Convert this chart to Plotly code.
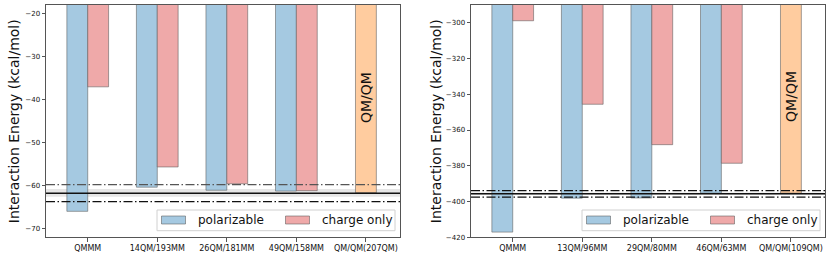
import plotly.graph_objects as go

W, H = 831, 260

# ---------------- data ----------------
left_categories = ["QMMM", "14QM/193MM", "26QM/181MM", "49QM/158MM", "QM/QM(207QM)"]
left_polarizable = [-65.9, -60.3, -61.0, -61.2]
left_charge_only = [-37.0, -55.6, -59.5, -61.1]
left_qmqm = -61.6
left_ref = -61.7
left_ref_band = [-60.7, -62.5]
left_ref_dash = [-59.7, -63.65]

right_categories = ["QMMM", "13QM/96MM", "29QM/80MM", "46QM/63MM", "QM/QM(109QM)"]
right_polarizable = [-417.1, -398.1, -398.0, -395.3]
right_charge_only = [-298.9, -345.6, -368.2, -378.6]
right_qmqm = -395.3
right_ref = -395.7
right_ref_band = [-395.0, -396.4]
right_ref_dash = [-393.9, -397.5]

legend_labels = ["polarizable", "charge only"]

BLUE = "#a5c9e1"
RED = "#efa9a9"
ORANGE = "#ffcc9f"
EDGE = "rgba(90,90,90,0.55)"
FONT = "DejaVu Sans"

fig = go.Figure()

panels = [
    dict(cats=left_categories, pol=left_polarizable, chg=left_charge_only, qm=left_qmqm,
         ref=left_ref, band=left_ref_band, dash=left_ref_dash,
         xa="x", ya="y", px0=46, px1=400, yr=[-71.93, -18.0],
         ytv=[-70, -60, -50, -40, -30, -20], qmlabel_y=-39.4, titlex=14,
         dashcolors=["#555555", "#111111"]),
    dict(cats=right_categories, pol=right_polarizable, chg=right_charge_only, qm=right_qmqm,
         ref=right_ref, band=right_ref_band, dash=right_ref_dash,
         xa="x2", ya="y2", px0=471, px1=825, yr=[-420.0, -290.1],
         ytv=[-420, -400, -380, -360, -340, -320, -300], qmlabel_y=-341, titlex=436,
         dashcolors=["#111111", "#111111"]),
]

py0, py1 = 5, 237.3
bw = 0.3

for p in panels:
    n = len(p["pol"])
    idx = list(range(n))
    fig.add_trace(go.Bar(x=[i - bw / 2 for i in idx], y=p["pol"], width=bw,
                         marker=dict(color=BLUE, line=dict(color=EDGE, width=1)),
                         xaxis=p["xa"], yaxis=p["ya"], showlegend=False, name=legend_labels[0]))
    fig.add_trace(go.Bar(x=[i + bw / 2 for i in idx], y=p["chg"], width=bw,
                         marker=dict(color=RED, line=dict(color=EDGE, width=1)),
                         xaxis=p["xa"], yaxis=p["ya"], showlegend=False, name=legend_labels[1]))
    fig.add_trace(go.Bar(x=[n], y=[p["qm"]], width=bw,
                         marker=dict(color=ORANGE, line=dict(color=EDGE, width=1)),
                         xaxis=p["xa"], yaxis=p["ya"], showlegend=False, name="QM/QM"))

    xref = p["xa"] + " domain"
    # reference band and lines
    fig.add_shape(type="rect", xref=xref, yref=p["ya"], x0=0, x1=1,
                  y0=p["band"][0], y1=p["band"][1], fillcolor="rgba(200,200,200,0.45)",
                  line=dict(width=0), layer="below")
    fig.add_shape(type="line", xref=xref, yref=p["ya"], x0=0, x1=1, y0=p["ref"], y1=p["ref"],
                  line=dict(color="#111111", width=1.5), layer="above")
    for yv, c in zip(p["dash"], p["dashcolors"]):
        fig.add_shape(type="line", xref=xref, yref=p["ya"], x0=0, x1=1, y0=yv, y1=yv,
                      line=dict(color=c, width=1.3, dash="9px,2.5px,1.5px,2.5px"), layer="above")

    # QM/QM label
    fig.add_annotation(x=n, y=p["qmlabel_y"], xref=p["xa"], yref=p["ya"], text="QM/QM",
                       textangle=-90, showarrow=False, font=dict(family=FONT, size=14, color="#111"))

    # y title
    fig.add_annotation(x=p["titlex"] / W, y=1 - ((py0 + py1) / 2) / H, xref="paper", yref="paper",
                       xanchor="center", yanchor="middle",
                       text="Interaction Energy (kcal/mol)", textangle=-90, showarrow=False,
                       font=dict(family=FONT, size=14, color="#111"))

    # custom legend
    bx0 = p["px0"] + 111
    bx1 = p["px1"] - 5
    by0, by1 = 210, 230.7
    fig.add_shape(type="rect", xref="paper", yref="paper",
                  x0=bx0 / W, x1=bx1 / W, y0=1 - by1 / H, y1=1 - by0 / H,
                  fillcolor="rgba(255,255,255,0.85)", line=dict(color="#d0d0d0", width=1), layer="above")
    for off, col, lab in [(4.5, BLUE, legend_labels[0]), (128.5, RED, legend_labels[1])]:
        fig.add_shape(type="rect", xref="paper", yref="paper",
                      x0=(bx0 + off) / W, x1=(bx0 + off + 24) / W,
                      y0=1 - 224 / H, y1=1 - 216 / H,
                      fillcolor=col, line=dict(color=EDGE, width=1), layer="above")
        fig.add_annotation(x=(bx0 + off + 34) / W, y=1 - 220 / H, xref="paper", yref="paper",
                           text=lab, showarrow=False, xanchor="left", yanchor="middle",
                           font=dict(family=FONT, size=12, color="#111"))

def xaxis_cfg(p):
    return dict(domain=[p["px0"] / W, p["px1"] / W], range=[-0.6, 4.49],
                tickvals=list(range(len(p["cats"]))), ticktext=p["cats"],
                showline=True, mirror=True, linecolor="#555", linewidth=1,
                ticks="outside", ticklen=3.5, tickcolor="#555",
                tickfont=dict(family=FONT, size=8, color="#111"),
                showgrid=False, zeroline=False, automargin=False, anchor=p["ya"])

def yaxis_cfg(p):
    return dict(domain=[1 - py1 / H, 1 - py0 / H], range=p["yr"], tickvals=p["ytv"],
                ticktext=[("\u2212" + str(-v)) if v < 0 else str(v) for v in p["ytv"]],
                showline=True, mirror=True, linecolor="#555", linewidth=1,
                ticks="outside", ticklen=3.5, tickcolor="#555",
                tickfont=dict(family=FONT, size=7, color="#111"),
                showgrid=False, zeroline=False, automargin=False, anchor=p["xa"])

fig.update_layout(
    width=W, height=H, margin=dict(l=0, r=0, t=0, b=0),
    paper_bgcolor="white", plot_bgcolor="white", barmode="overlay",
    xaxis=xaxis_cfg(panels[0]), yaxis=yaxis_cfg(panels[0]),
    xaxis2=xaxis_cfg(panels[1]), yaxis2=yaxis_cfg(panels[1]),
    font=dict(family=FONT),
)

fig.write_html("out.html", config={"displayModeBar": False},
               post_script="document.body.style.margin='0';document.body.style.padding='0';")
